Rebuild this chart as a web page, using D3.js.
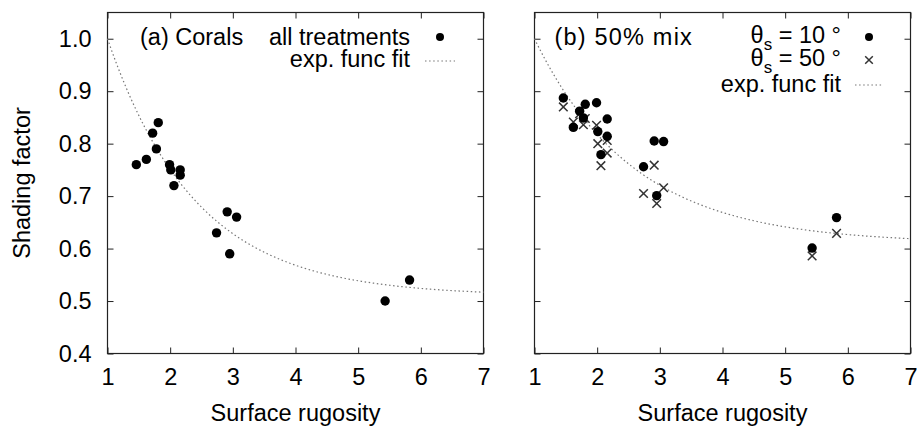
<!DOCTYPE html>
<html>
<head>
<meta charset="utf-8">
<script src="https://cdn.jsdelivr.net/npm/d3@7"></script>
<style>
  html, body { margin: 0; padding: 0; background: #fff; }
  svg { display: block; font-family: "Liberation Sans", Arial, Helvetica, sans-serif; }
</style>
</head>
<body>
<svg id="chart" width="917" height="428"></svg>
<script>
// ---- data ----
const rugosity = [1.46, 1.62, 1.72, 1.78, 1.81, 1.99, 2.01, 2.06, 2.16, 2.16, 2.74, 2.91, 2.95, 3.06, 5.43, 5.82];
const coralsAll = [0.76, 0.77, 0.82, 0.79, 0.84, 0.76, 0.75, 0.72, 0.75, 0.74, 0.63, 0.67, 0.59, 0.66, 0.50, 0.54];
const mixTheta10 = [0.887, 0.831, 0.862, 0.849, 0.875, 0.878, 0.823, 0.779, 0.847, 0.814, 0.756, 0.805, 0.701, 0.804, 0.601, 0.659];
const mixTheta50 = [0.870, 0.841, 0.857, 0.836, 0.848, 0.835, 0.800, 0.758, 0.806, 0.782, 0.705, 0.759, 0.686, 0.716, 0.586, 0.629];
// exp. func fit:  y = a + (1 - a) * exp(-b (x - 1))
const fitA = [0.51, 0.61];
const fitB = [0.71, 0.63];
const xTicks = [1, 2, 3, 4, 5, 6, 7];
const yTicks = [0.4, 0.5, 0.6, 0.7, 0.8, 0.9, 1.0];
const panelTitles = ["(a) Corals", "(b) 50% mix"];

(function () {
const svg = d3.select("#chart");
const plotTop = 12.5, plotBottom = 353.5;
const panels = [{ x0: 107.5, x1: 483.5 }, { x0: 534.5, x1: 910.5 }];
const FS = 23.5;

const y = d3.scaleLinear().domain([0.4, 1.05]).range([plotBottom, plotTop]);

panels.forEach((p, i) => {
  const x = d3.scaleLinear().domain([1, 7]).range([p.x0, p.x1]);
  const g = svg.append("g");

  // axes
  const axB = g.append("g").attr("transform", `translate(0,${plotBottom})`)
    .call(d3.axisBottom(x).tickValues(xTicks).tickFormat(d3.format("d")).tickSizeInner(-6).tickSizeOuter(0).tickPadding(15));
  const axT = g.append("g").attr("transform", `translate(0,${plotTop})`)
    .call(d3.axisTop(x).tickValues(xTicks).tickFormat("").tickSizeInner(-6).tickSizeOuter(0));
  const axL = g.append("g").attr("transform", `translate(${p.x0},0)`)
    .call(d3.axisLeft(y).tickValues(yTicks).tickFormat(i === 0 ? d3.format(".1f") : "").tickSizeInner(-6).tickSizeOuter(0).tickPadding(16));
  const axR = g.append("g").attr("transform", `translate(${p.x1},0)`)
    .call(d3.axisRight(y).tickValues(yTicks).tickFormat("").tickSizeInner(-6).tickSizeOuter(0));
  [axB, axT, axL, axR].forEach(a => {
    a.select(".domain").remove();
    a.selectAll(".tick line").attr("stroke", "#222").attr("stroke-width", 1);
    a.selectAll(".tick text").attr("font-size", FS).attr("fill", "#000").attr("font-family", "Liberation Sans, Arial, sans-serif");
  });

  // border
  g.append("rect").attr("x", p.x0).attr("y", plotTop).attr("width", p.x1 - p.x0).attr("height", plotBottom - plotTop)
    .attr("fill", "none").attr("stroke", "#222").attr("stroke-width", 1.2);

  // x title
  g.append("text").attr("x", (p.x0 + p.x1) / 2).attr("y", 421).attr("text-anchor", "middle")
    .attr("font-size", FS).text("Surface rugosity");

  // fit curve
  const a = fitA[i], b = fitB[i];
  const xs = d3.range(1, 7.0001, 0.05);
  const line = d3.line().x(d => x(d)).y(d => y(a + (1 - a) * Math.exp(-b * (d - 1))));
  g.append("path").datum(xs).attr("d", line).attr("fill", "none")
    .attr("stroke", "#777").attr("stroke-width", 1.2).attr("stroke-dasharray", "1.5,2.6");

  // markers
  const cross = (sel, cx, cy, s) => sel.append("path")
    .attr("d", `M${cx - s},${cy - s}L${cx + s},${cy + s}M${cx - s},${cy + s}L${cx + s},${cy - s}`)
    .attr("stroke", "#333").attr("stroke-width", 1.5).attr("fill", "none");

  if (i === 0) {
    g.selectAll("circle.pt").data(rugosity).join("circle").attr("class", "pt")
      .attr("cx", d => x(d)).attr("cy", (d, k) => y(coralsAll[k])).attr("r", 4.7).attr("fill", "#000");
  } else {
    rugosity.forEach((d, k) => cross(g, x(d), y(mixTheta50[k]), 4.3));
    g.selectAll("circle.pt").data(rugosity).join("circle").attr("class", "pt")
      .attr("cx", d => x(d)).attr("cy", (d, k) => y(mixTheta10[k])).attr("r", 4.7).attr("fill", "#000");
  }

  // panel title
  const tt = g.append("text").attr("y", 45).attr("font-size", FS).text(panelTitles[i]);
  if (i === 0) tt.attr("x", 140);
  else tt.attr("x", 693).attr("text-anchor", "end").attr("letter-spacing", 1.2);

  // legend
  if (i === 0) {
    g.append("text").attr("x", 410).attr("y", 45).attr("text-anchor", "end").attr("font-size", FS).text("all treatments");
    g.append("circle").attr("cx", 440).attr("cy", 37).attr("r", 4).attr("fill", "#000");
    g.append("text").attr("x", 410).attr("y", 67).attr("text-anchor", "end").attr("font-size", FS).text("exp. func fit");
    g.append("line").attr("x1", 425).attr("x2", 455).attr("y1", 61).attr("y2", 61)
      .attr("stroke", "#777").attr("stroke-width", 1.2).attr("stroke-dasharray", "1.5,2.6");
  } else {
    const lx = 841;
    const t1 = g.append("text").attr("x", lx).attr("y", 43).attr("text-anchor", "end").attr("font-size", FS);
    t1.append("tspan").text("θ");
    t1.append("tspan").attr("dy", 7).attr("font-size", 17).text("s");
    t1.append("tspan").attr("dy", -7).text(" = 10 °");
    g.append("circle").attr("cx", 869).attr("cy", 37).attr("r", 4).attr("fill", "#000");
    const t2 = g.append("text").attr("x", lx).attr("y", 66).attr("text-anchor", "end").attr("font-size", FS);
    t2.append("tspan").text("θ");
    t2.append("tspan").attr("dy", 7).attr("font-size", 17).text("s");
    t2.append("tspan").attr("dy", -7).text(" = 50 °");
    cross(g, 869, 60, 3.8);
    g.append("text").attr("x", lx).attr("y", 92).attr("text-anchor", "end").attr("font-size", FS).text("exp. func fit");
    g.append("line").attr("x1", 855).attr("x2", 882).attr("y1", 85).attr("y2", 85)
      .attr("stroke", "#777").attr("stroke-width", 1.2).attr("stroke-dasharray", "1.5,2.6");
  }
});

// y title
svg.append("text").attr("transform", `translate(30,${(plotTop + plotBottom) / 2}) rotate(-90)`)
  .attr("text-anchor", "middle").attr("font-size", FS).text("Shading factor");
})();
</script>
</body>
</html>
